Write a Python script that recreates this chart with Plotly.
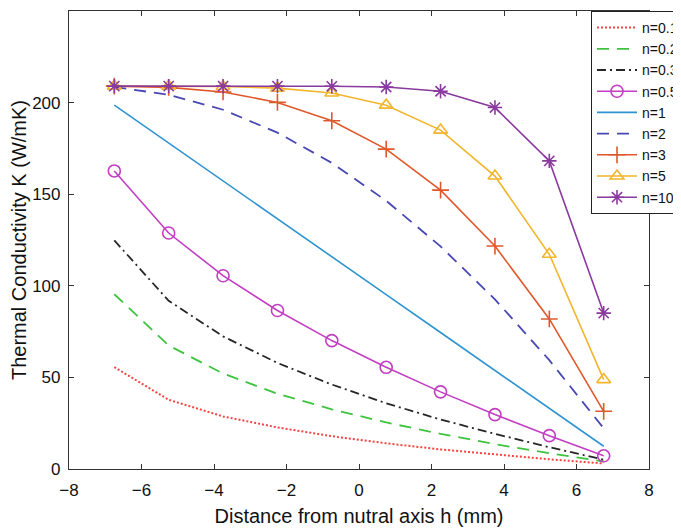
import plotly.graph_objects as go

h = [-6.75, -5.25, -3.75, -2.25, -0.75, 0.75, 2.25, 3.75, 5.25, 6.75]

k_n01 = [55.6, 37.8, 28.7, 22.7, 17.9, 14.0, 10.7, 7.8, 5.3, 3.0]
k_n02 = [95.4, 67.4, 52.1, 41.1, 32.6, 25.4, 19.2, 13.6, 8.6, 4.1]
k_n03 = [124.8, 91.8, 72.4, 57.9, 46.1, 35.9, 27.0, 19.2, 11.9, 5.1]
k_n05 = [162.7, 128.8, 105.5, 86.5, 70.1, 55.5, 42.1, 29.7, 18.2, 7.2]
k_n1 = [198.6, 178.0, 157.3, 136.6, 115.9, 95.2, 74.5, 53.8, 33.1, 12.4]
k_n2 = [208.5, 204.3, 196.1, 183.6, 167.1, 146.4, 121.5, 92.6, 59.4, 22.2]
k_n3 = [209.0, 208.3, 205.8, 200.1, 190.1, 174.6, 152.2, 121.7, 81.9, 31.5]
k_n5 = [209.0, 209.0, 208.8, 207.9, 205.2, 198.6, 185.0, 159.9, 117.2, 48.8]
k_n10 = [209.0, 209.0, 209.0, 209.0, 208.9, 208.5, 206.2, 197.3, 168.2, 85.1]

names = ["n=0.1", "n=0.2", "n=0.3", "n=0.5", "n=1", "n=2", "n=3", "n=5", "n=10"]
series = [k_n01, k_n02, k_n03, k_n05, k_n1, k_n2, k_n3, k_n5, k_n10]
colors = ["#F24444", "#3EC43E", "#262626", "#C23EC2", "#2F93D0",
          "#4848B4", "#E0582A", "#F2B52C", "#8A3A9E"]
dashes = ["2px,2px", "12px,8px", "9px,4px,2px,4px", "solid", "solid",
          "12px,8px", "solid", "solid", "solid"]
widths = [2, 1.8, 1.8, 1.6, 1.6, 1.8, 1.6, 1.6, 1.6]
symbols = [None, None, None, "circle-open", None, None,
           "cross-thin-open", "triangle-up-open", "asterisk-open"]

fig = go.Figure()
for name, y, c, d, w, s in zip(names, series, colors, dashes, widths, symbols):
    if s is None:
        fig.add_trace(go.Scatter(
            x=h, y=y, name=name, mode="lines",
            line=dict(color=c, width=w, dash=d),
        ))
    else:
        fig.add_trace(go.Scatter(
            x=h, y=y, name=name, mode="lines+markers",
            line=dict(color=c, width=w, dash=d),
            marker=dict(symbol=s, size=12, color=c,
                        line=dict(color=c, width=1.6)),
        ))

axis_common = dict(
    showline=True, linecolor="#333333", linewidth=1.2, mirror="ticks",
    ticks="inside", ticklen=5, tickcolor="#333333", tickwidth=1,
    showgrid=False, zeroline=False,
    tickfont=dict(family="Liberation Sans, Arial", size=17, color="#111111"),
)

# page body adds an 8px offset; figure is sized/margined to compensate
fig.update_layout(
    width=673, height=522,
    margin=dict(l=61, r=32, t=3, b=61, autoexpand=False),
    paper_bgcolor="white", plot_bgcolor="white",
    font=dict(family="Liberation Sans, Arial", color="#111111"),
    xaxis=dict(range=[-8, 8], tickvals=[-8, -6, -4, -2, 0, 2, 4, 6, 8],
               ticklabelstandoff=5,
               title=dict(text="Distance from nutral axis h (mm)",
                          font=dict(size=20), standoff=10),
               **axis_common),
    yaxis=dict(range=[0, 250], tickvals=[0, 50, 100, 150, 200, 250],
               ticklabelstandoff=4,
               title=dict(text="Thermal Conductivity K (W/mK)",
                          font=dict(size=20), standoff=2),
               **axis_common),
    legend=dict(x=0.900, y=1.0, xanchor="left", yanchor="top",
                bgcolor="white", bordercolor="#222222", borderwidth=1,
                font=dict(size=14, color="#111111"), itemwidth=40,
                tracegroupgap=0, traceorder="normal"),
    showlegend=True,
)

fig.write_html("out.html")
